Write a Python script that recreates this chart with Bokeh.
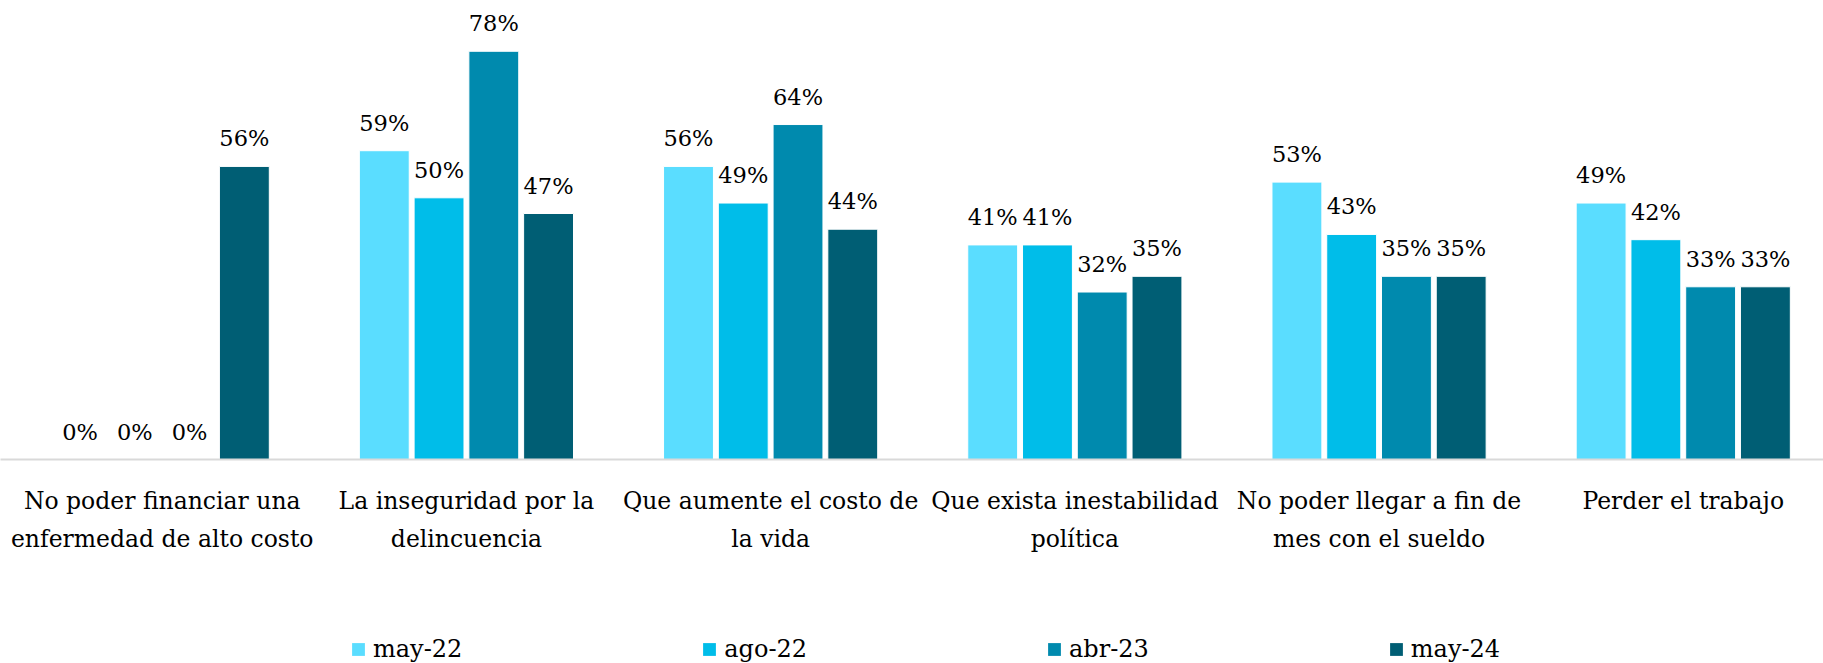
from bokeh.plotting import figure
from bokeh.models import Range1d, FixedTicker, ColumnDataSource, Legend, LegendItem
from bokeh.layouts import column
from bokeh.core.properties import value
from bokeh.embed import file_html
from bokeh.resources import INLINE

categories = [
    "No poder financiar una\nenfermedad de alto costo",
    "La inseguridad por la\ndelincuencia",
    "Que aumente el costo de\nla vida",
    "Que exista inestabilidad\npolítica",
    "No poder llegar a fin de\nmes con el sueldo",
    "Perder el trabajo",
]
series = ["may-22", "ago-22", "abr-23", "may-24"]
may_22 = [0, 59, 56, 41, 53, 49]
ago_22 = [0, 50, 49, 41, 43, 42]
abr_23 = [0, 78, 64, 32, 35, 33]
may_24 = [56, 47, 44, 35, 35, 33]
colors = ["#5ADDFF", "#00BDE9", "#008AAE", "#005E74"]

FONT = "DejaVu Serif"
values_by_series = [may_22, ago_22, abr_23, may_24]
offsets = [-0.27, -0.09, 0.09, 0.27]
idx = list(range(len(categories)))

W = 1823
H_MAIN = 556
H_LEG = 107

p = figure(width=W, height=H_MAIN,
           x_range=Range1d(-0.5316, 5.461), y_range=Range1d(0, 87.7),
           output_backend="svg", toolbar_location=None, min_border=0,
           min_border_left=0, min_border_right=0, min_border_top=0,
           min_border_bottom=0)
p.outline_line_color = None
p.grid.visible = False
p.yaxis.visible = False

sources = []
for s, vals, col, off in zip(series, values_by_series, colors, offsets):
    src = ColumnDataSource(dict(
        x=[i + off for i in idx],
        top=vals,
        label=[f"{v:.0f}%" for v in vals],
    ))
    sources.append(src)
    p.vbar(x="x", top="top", bottom=0, width=0.164, source=src,
           fill_color=col, line_color="white", line_width=1)
    p.text(x="x", y="top", text="label", source=src,
           text_font=value(FONT), text_font_size="22.5px", text_color="#000000",
           text_align="center", text_baseline="alphabetic", y_offset=-28)

xa = p.xaxis[0]
xa.ticker = FixedTicker(ticks=idx)
xa.major_label_overrides = {i: c for i, c in zip(idx, categories)}
xa.axis_line_color = "#D9D9D9"
xa.axis_line_width = 2
xa.major_tick_line_color = None
xa.minor_tick_line_color = None
xa.major_label_text_font = FONT
xa.major_label_text_font_size = "23.5px"
xa.major_label_text_color = "#000000"
xa.major_label_text_line_height = 1.38
xa.major_label_standoff = 21

# legend strip: same bar glyphs, hidden renderers; only the legend swatches show
pl = figure(width=W, height=H_LEG, x_range=Range1d(-0.5316, 5.461),
            y_range=Range1d(-2000, -1990),
            output_backend="svg", toolbar_location=None, min_border=0,
            min_border_left=0, min_border_right=0, min_border_top=0,
            min_border_bottom=0)
pl.outline_line_color = None
pl.grid.visible = False
pl.axis.visible = False
items = []
for s, src, col in zip(series, sources, colors):
    r = pl.vbar(x="x", top="top", bottom=0, width=0.164, source=src,
                fill_color=col, line_color=col, line_width=0)
    r.visible = False
    items.append(LegendItem(label=s, renderers=[r]))
legend = Legend(items=items, orientation="horizontal", location=(350, 0),
                spacing=239, label_standoff=7, glyph_width=16, glyph_height=16,
                label_text_font=FONT, label_text_font_size="24px",
                label_text_color="#000000", border_line_color=None,
                background_fill_alpha=0, margin=0, padding=0,
                inactive_fill_alpha=0)
pl.add_layout(legend)

layout = column(p, pl, spacing=0)
open("out.html", "w").write(file_html(layout, INLINE))
